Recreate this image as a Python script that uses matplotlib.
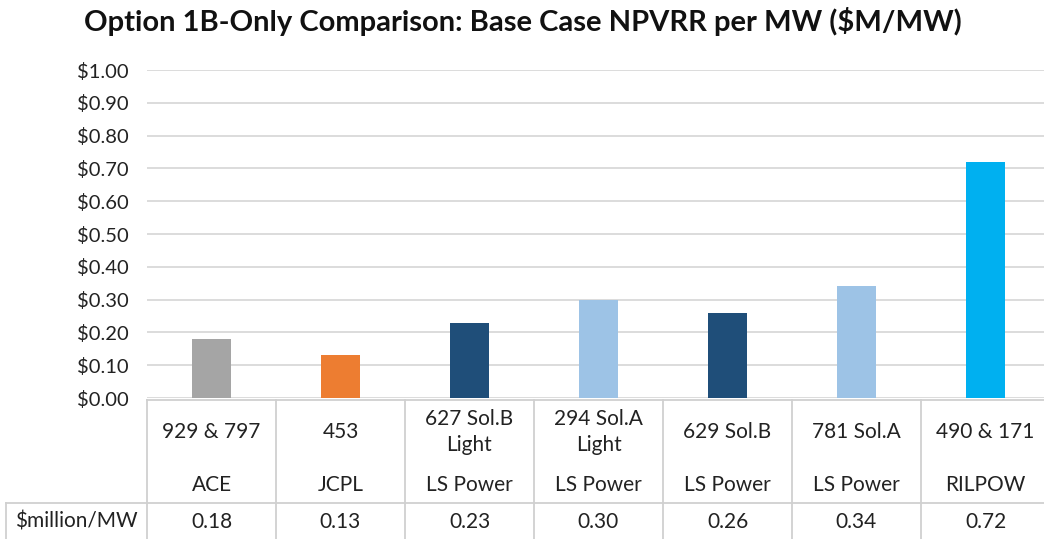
import matplotlib
matplotlib.use("Agg")
import matplotlib.pyplot as plt

categories = ["929 & 797", "453", "627 Sol.B\nLight", "294 Sol.A\nLight", "629 Sol.B", "781 Sol.A", "490 & 171"]
companies = ["ACE", "JCPL", "LS Power", "LS Power", "LS Power", "LS Power", "RILPOW"]
values = [0.18, 0.13, 0.23, 0.30, 0.26, 0.34, 0.72]
colors = ["#A5A5A5", "#ED7D31", "#1F4E79", "#9DC3E6", "#1F4E79", "#9DC3E6", "#00B0F0"]
yticks = [0.0, 0.1, 0.2, 0.3, 0.4, 0.5, 0.6, 0.7, 0.8, 0.9, 1.0]
row_label = "$million/MW"
title = "Option 1B-Only Comparison: Base Case NPVRR per MW ($M/MW)"

plt.rcParams['font.family'] = ['Lato', 'DejaVu Sans']
W, H = 1044, 539
fig = plt.figure(figsize=(W / 100, H / 100), dpi=100)

px = lambda x: x / W
py = lambda y: 1 - y / H
left, right, top, bottom = 147, 1050, 70, 398
ax = fig.add_axes([px(left), py(bottom), px(right - left), (bottom - top) / H])

fs = 15
tc = "#222222"
x = list(range(len(values)))
ax.bar(x, values, width=0.30, color=colors, zorder=3)
ax.set_xlim(-0.5, len(values) - 0.5)
ax.set_ylim(0, 1.0)
ax.set_yticks(yticks)
ax.set_yticklabels([f"${v:.2f}" for v in yticks], fontsize=14.5, color=tc)
ax.tick_params(axis='y', length=0, pad=13.5)
ax.set_xticks([])
for s in ax.spines.values():
    s.set_visible(False)
ax.grid(axis='y', color="#D9D9D9", linewidth=1.3, zorder=0)

# table
tr = ax.get_xaxis_transform()
def yf(p):
    return (bottom - p) / (bottom - top)
lc = "#D0D0D0"
lw = 1.3
y_top, y_mid, y_bot = yf(400), yf(503), yf(545)
ax.plot([-0.5, len(values) - 0.5], [y_top, y_top], transform=tr, color=lc, lw=lw, clip_on=False)
ax.plot([-0.5, len(values) - 0.5], [y_mid, y_mid], transform=tr, color=lc, lw=lw, clip_on=False)
for i in range(len(values) + 1):
    xb = i - 0.5
    ax.plot([xb, xb], [y_top, y_bot], transform=tr, color=lc, lw=lw, clip_on=False)
for i, (c, comp, v) in enumerate(zip(categories, companies, values)):
    ax.text(i, yf(432), c, transform=tr, ha='center', va='center', fontsize=fs,
            color=tc, linespacing=1.35)
    ax.text(i, yf(485), comp, transform=tr, ha='center', va='center', fontsize=fs, color=tc)
    ax.text(i, yf(522), f"{v:.2f}", transform=tr, ha='center', va='center', fontsize=fs, color=tc)

# left label cell
fig.add_artist(plt.Line2D([px(6), px(left)], [py(503), py(503)], color=lc, lw=lw))
fig.add_artist(plt.Line2D([px(6), px(6)], [py(503), py(545)], color=lc, lw=lw))
fig.text(px(76), py(522), row_label, ha='center', va='center', fontsize=fs, color=tc)

fig.text(px(523), py(22), title, ha='center', va='center', fontsize=21, fontweight='bold', color="#111111")

fig.savefig("out.png", dpi=100)
